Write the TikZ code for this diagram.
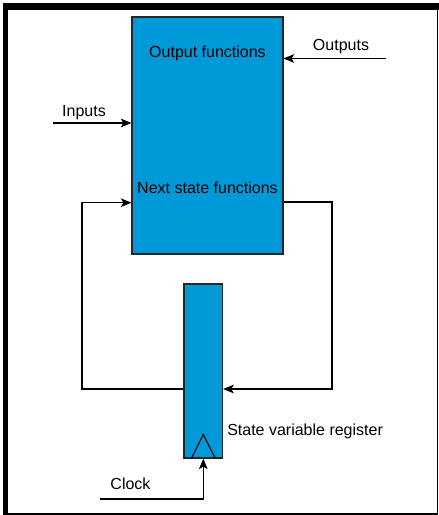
\documentclass[tikz,border=0pt]{standalone}
\usepackage{fontspec}
\setmainfont{Liberation Sans}
\usetikzlibrary{arrows.meta}
\definecolor{fsmblue}{RGB}{0,153,216}
\begin{document}
\begin{tikzpicture}[x=0.75pt,y=-0.75pt,
        block/.style={draw=black!85,fill=fsmblue,line width=0.8pt,inner sep=0pt},
        lbl/.style={font=\fontsize{12}{14}\selectfont,inner sep=0pt},
        arr/.style={-{Stealth[length=8pt,width=6.5pt,inset=2pt]},line width=0.8pt},
        wire/.style={line width=0.8pt}]
                \useasboundingbox (0,0) rectangle (439,515);
                \fill (2.7,3.3) rectangle (439,10);
                \fill (2.7,3.3) rectangle (8,514.3);
                \draw[line width=1.4pt] (437.5,3.3) -- (437.5,513.6) -- (2.7,513.6);
                \node[block,minimum width=113.25pt,minimum height=177.75pt] (fns) at (207.5,135.5) {};
                \node[block,minimum width=29pt,minimum height=130.5pt] (reg) at (203.3,371) {};
                \node[lbl] (outfn) at (207.5,53) {Output functions};
                \node[lbl] (nsfn) at (207.5,188) {Next state functions};
                \node[lbl] (outlbl) at (341,47) {Outputs};
                \node[lbl] (inlbl) at (84,113) {Inputs};
                \node[lbl] (clklbl) at (130.5,484) {Clock};
                \node[lbl,anchor=west] (reglbl) at (227,431) {State variable register};
                \coordinate (outsrc) at (386,58.5);
                \coordinate (insrc) at (53,123);
                \coordinate (nsout) at (332,202);
                \coordinate (nsin) at (82,202.7);
                \coordinate (clksrc) at (100,499);
                \draw[arr] (outsrc) -- (fns.east |- outsrc);
                \draw[arr] (insrc) -- (fns.west |- insrc);
                \draw[arr] (fns.east |- nsout) -- (nsout) -- (nsout |- 0,389) -- (reg.east |- 0,389);
                \draw[arr] (reg.west |- 0,389) -- (nsin |- 0,389) -- (nsin) -- (fns.west |- nsin);
                \draw[arr] (clksrc) -| (reg.south);
                \draw[wire] (reg.south) ++(-12,0) -- ++(12,-24) -- ++(12,24);
            \end{tikzpicture}
\end{document}
